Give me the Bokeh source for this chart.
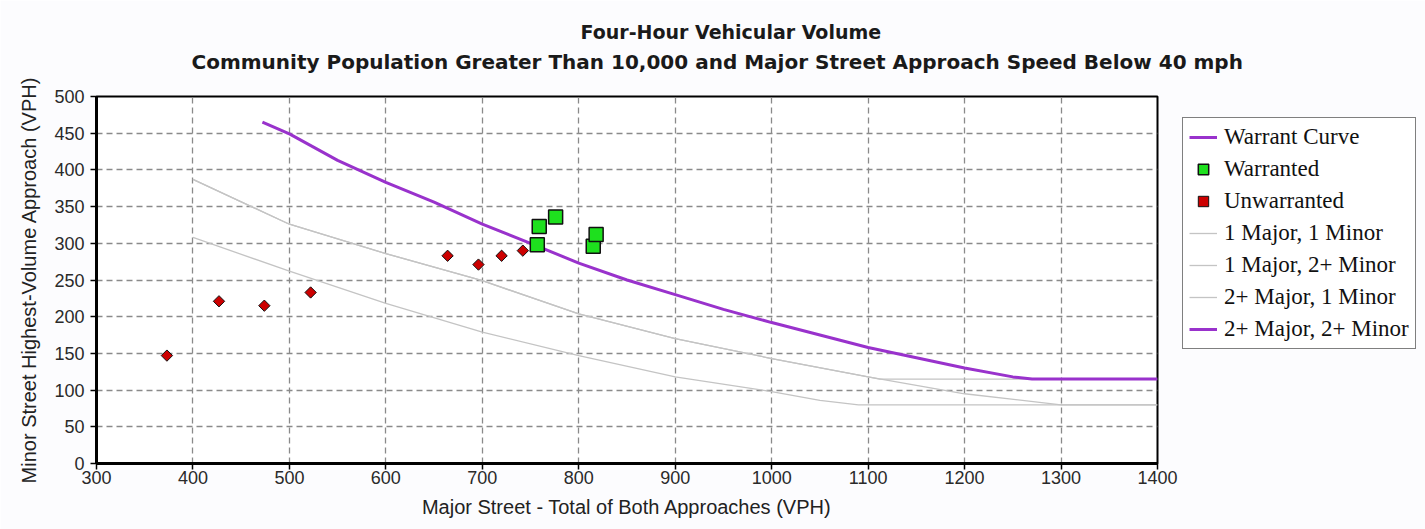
from bokeh.plotting import figure
from bokeh.models import Title, Legend, LegendItem, Range1d, FixedTicker
from bokeh.embed import file_html
from bokeh.resources import INLINE
import math

# ---- data ----
warrant_x = [472, 500, 550, 600, 650, 700, 750, 800, 850, 900, 950, 1000, 1050, 1100, 1150, 1200, 1250, 1270, 1400]
warrant_y = [465, 449, 413, 383, 356, 326, 300, 273, 250, 230, 210, 192, 175, 158, 144, 130, 118, 115, 115]

one_one_x = [400, 500, 600, 700, 800, 900, 1000, 1050, 1090, 1400]
one_one_y = [308, 262, 218, 179, 147, 118, 98, 86, 80, 80]

one_two_x = [400, 500, 600, 700, 800, 900, 1000, 1100, 1112, 1400]
one_two_y = [387, 326, 286, 249, 204, 170, 143, 118, 115, 115]

two_one_x = [400, 500, 600, 700, 800, 900, 1000, 1100, 1200, 1300, 1400]
two_one_y = [387, 326, 286, 249, 204, 170, 143, 118, 95, 80, 80]

warranted_x = [757, 759, 776, 815, 818]
warranted_y = [298, 323, 336, 296, 312]

unwarranted_x = [373, 427, 474, 522, 664, 696, 720, 742]
unwarranted_y = [147, 221, 215, 233, 283, 271, 283, 290]

x_ticks = [300, 400, 500, 600, 700, 800, 900, 1000, 1100, 1200, 1300, 1400]
y_ticks = [0, 50, 100, 150, 200, 250, 300, 350, 400, 450, 500]

PURPLE = "#9932cc"
GRAY = "#c4c4c4"

p = figure(frame_width=1061, frame_height=367, output_backend="svg", toolbar_location=None,
           x_range=Range1d(300, 1400), y_range=Range1d(0, 500),
           min_border_left=96, min_border_right=0, min_border_top=96, min_border_bottom=66)

p.background_fill_color = "white"
p.border_fill_color = "#fcfcfe"
p.outline_line_color = "black"
p.outline_line_width = 2

# titles
t2 = Title(text="Community Population Greater Than 10,000 and Major Street Approach Speed Below 40 mph",
           align="left", text_font="DejaVu Sans", text_font_size="20px", text_font_style="bold",
           text_color="#1a1a1a", standoff=45, offset=95)
t1 = Title(text="Four-Hour Vehicular Volume", align="left", text_font="DejaVu Sans",
           text_font_size="19px", text_font_style="bold", text_color="#1a1a1a", standoff=-34, offset=484)
p.add_layout(t2, "above")
p.add_layout(t1, "above")

# axes
for ax in (p.xaxis[0], p.yaxis[0]):
    ax.axis_line_width = 3
    ax.axis_line_color = "black"
    ax.major_tick_line_color = "black"
    ax.major_tick_line_width = 1.5
    ax.major_tick_out = 6
    ax.major_tick_in = 0
    ax.minor_tick_line_color = None
    ax.major_label_text_font = "Liberation Sans"
    ax.major_label_text_font_size = "18px"
    ax.major_label_text_color = "#2a2a2a"
    ax.axis_label_text_font = "Liberation Sans"
    ax.axis_label_text_font_size = "20px"
    ax.axis_label_text_font_style = "normal"
    ax.axis_label_text_color = "#222222"

p.xaxis[0].ticker = FixedTicker(ticks=x_ticks)
p.yaxis[0].ticker = FixedTicker(ticks=y_ticks)
p.xaxis[0].axis_label = "Major Street - Total of Both Approaches (VPH)"
p.yaxis[0].axis_label = "Minor Street Highest-Volume Approach (VPH)"
p.xaxis[0].axis_label_standoff = 9
p.yaxis[0].axis_label_standoff = 11
p.yaxis[0].major_label_standoff = 6
p.xaxis[0].major_label_standoff = 1

p.grid.grid_line_color = "#8a8a8a"
p.grid.grid_line_dash = "6 4"
p.grid.grid_line_width = 1.3
p.xgrid.ticker = FixedTicker(ticks=x_ticks)
p.ygrid.ticker = FixedTicker(ticks=y_ticks)

# lines
r11 = p.line(one_one_x, one_one_y, line_color=GRAY, line_width=1.3)
r12 = p.line(one_two_x, one_two_y, line_color=GRAY, line_width=1.3)
r21 = p.line(two_one_x, two_one_y, line_color=GRAY, line_width=1.3)
r22 = p.line(warrant_x, warrant_y, line_color=PURPLE, line_width=3)

rw = p.scatter(warranted_x, warranted_y, marker="square", size=14, fill_color="#1ee01e",
               line_color="#111111", line_width=1.5)
ru = p.scatter(unwarranted_x, unwarranted_y, marker="square", size=8, angle=math.pi / 4,
               fill_color="#cc0000", line_color="#111111", line_width=1)

items = [
    LegendItem(label="Warrant Curve", renderers=[r22]),
    LegendItem(label="Warranted", renderers=[rw]),
    LegendItem(label="Unwarranted", renderers=[ru]),
    LegendItem(label="1 Major, 1 Minor", renderers=[r11]),
    LegendItem(label="1 Major, 2+ Minor", renderers=[r12]),
    LegendItem(label="2+ Major, 1 Minor", renderers=[r21]),
    LegendItem(label="2+ Major, 2+ Minor", renderers=[r22]),
]
legend = Legend(items=items, location=(25, 114), orientation="vertical",
                border_line_color="black", border_line_width=1.5, background_fill_color="white",
                background_fill_alpha=1.0, label_text_font="Liberation Serif", label_text_font_size="23px",
                label_text_color="#111111", glyph_width=28, glyph_height=26, label_height=26,
                spacing=6, padding=6, margin=0, label_standoff=7)
p.add_layout(legend, "right")

open("out.html", "w").write(file_html(p, INLINE))
